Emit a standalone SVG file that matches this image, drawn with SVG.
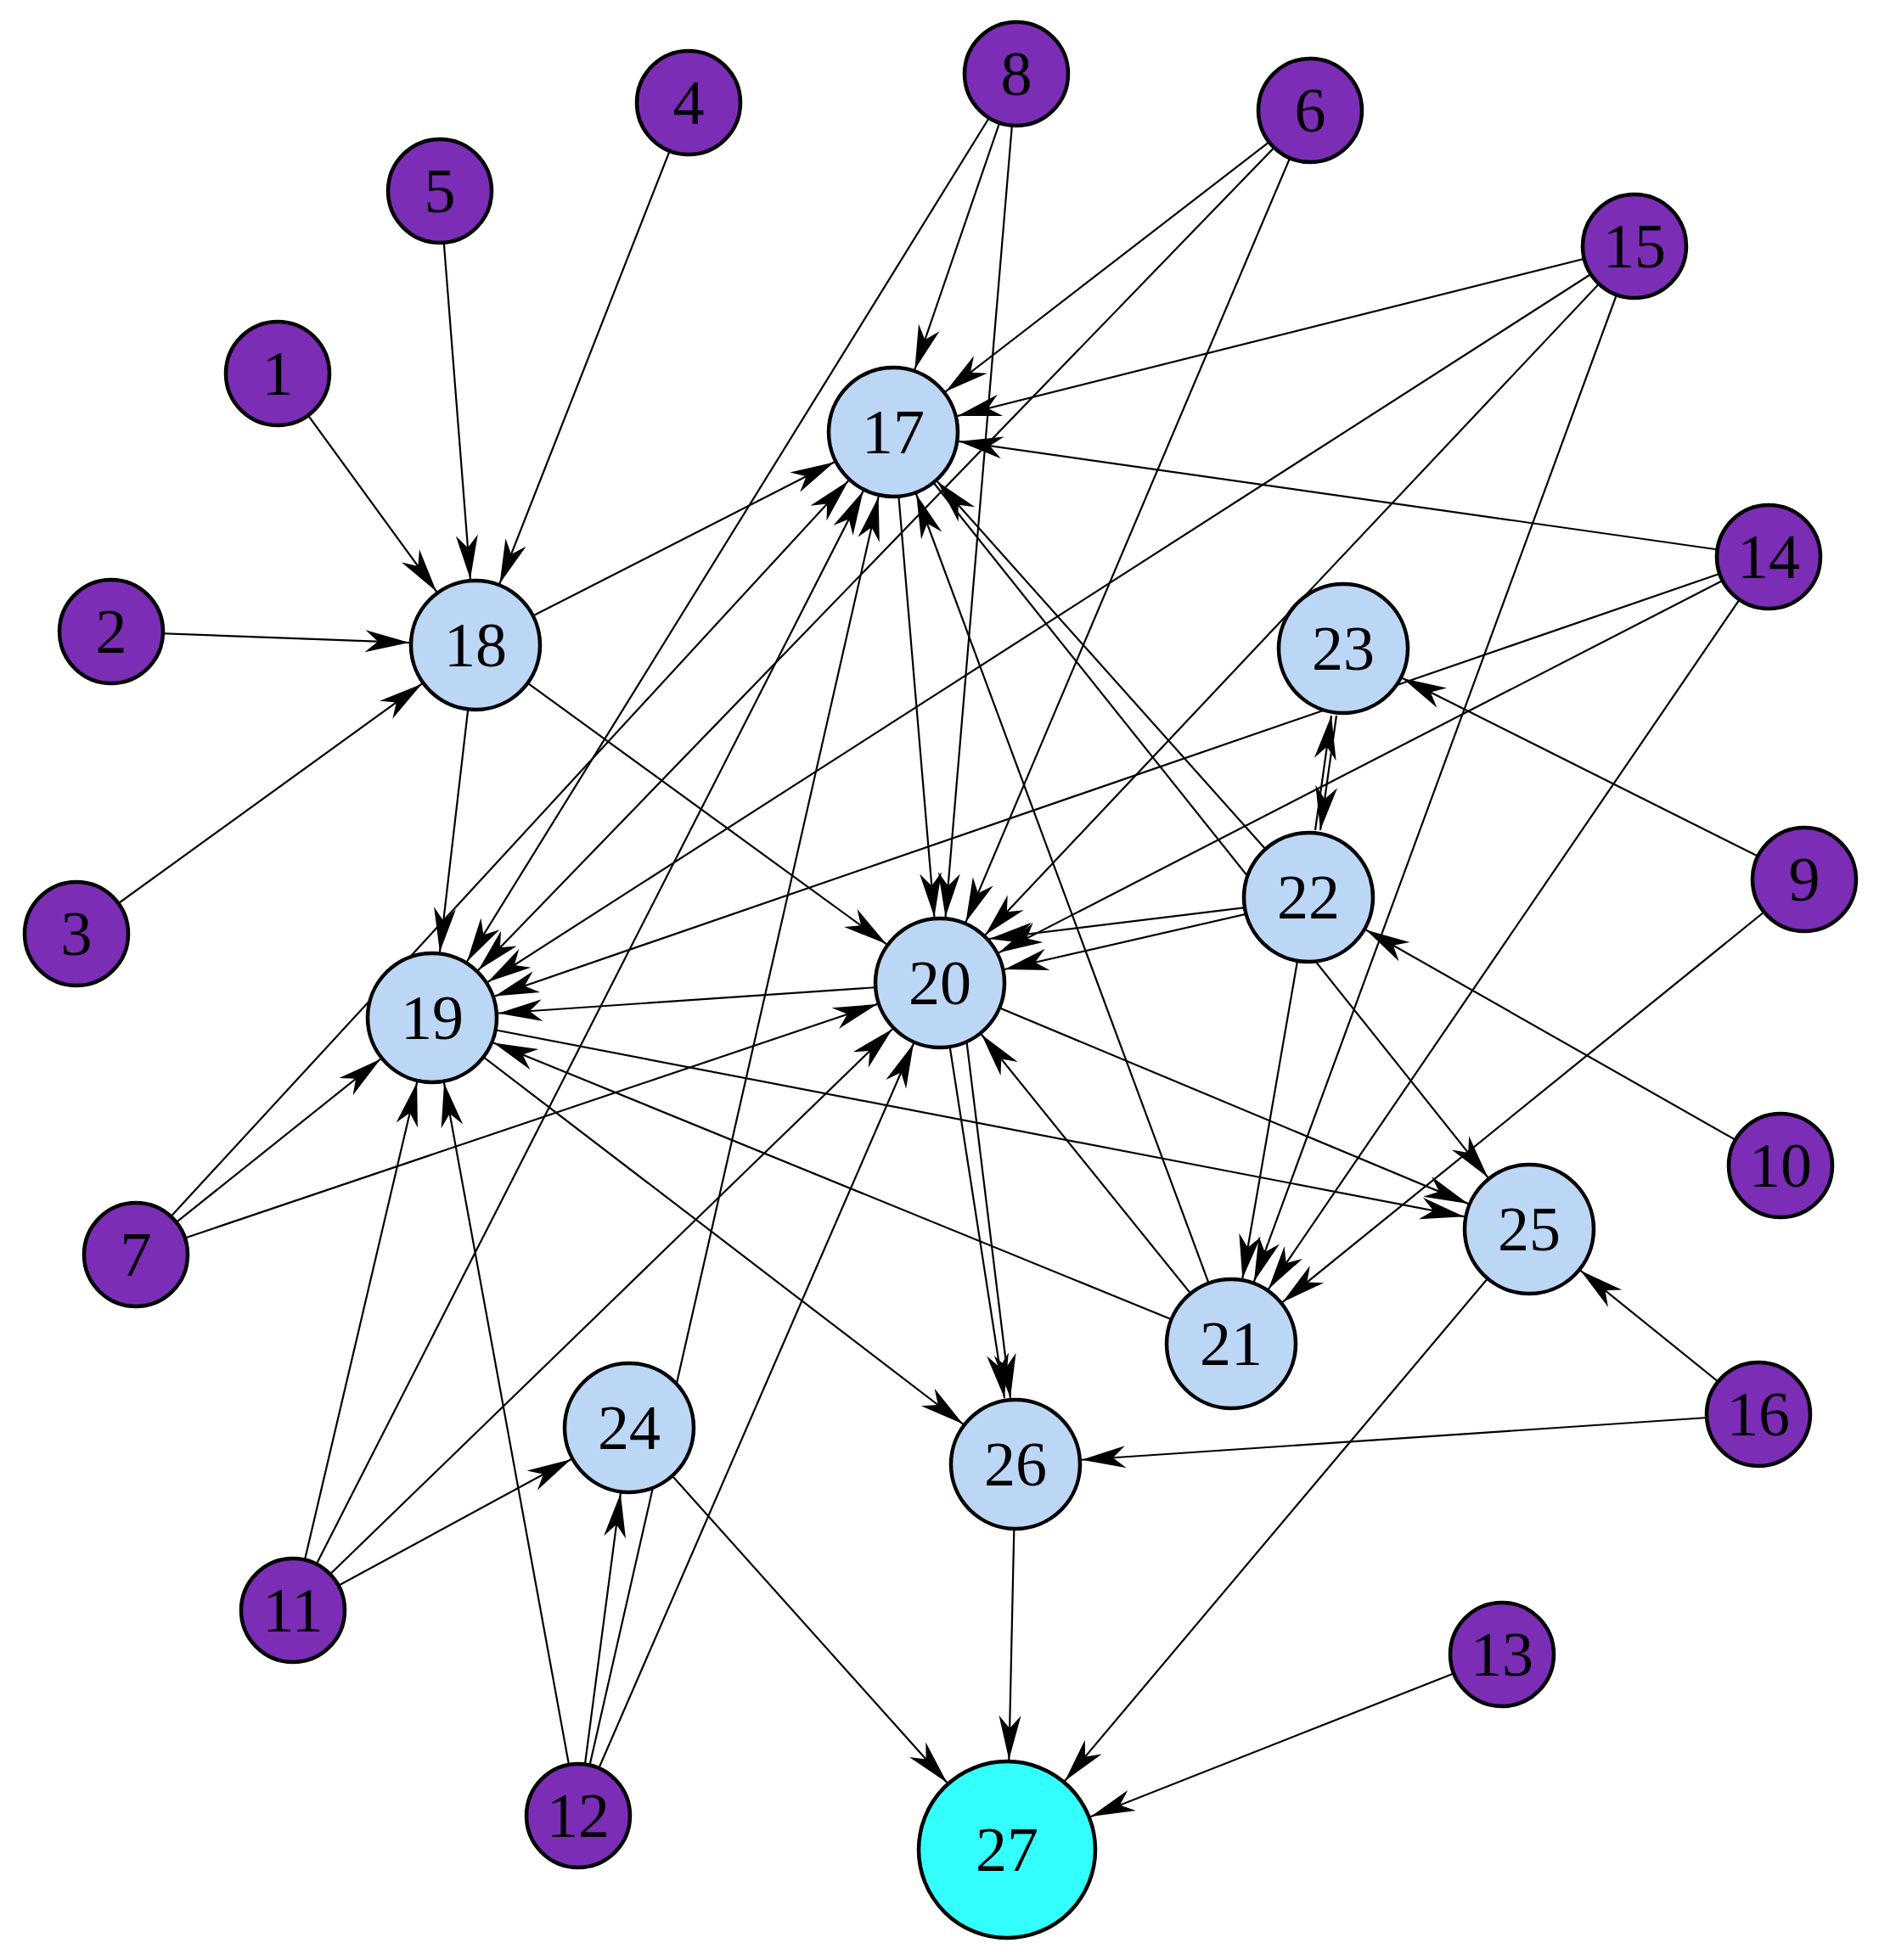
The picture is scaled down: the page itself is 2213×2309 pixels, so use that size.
<svg xmlns="http://www.w3.org/2000/svg" width="2213" height="2309" viewBox="0 0 2213 2309">
<style>
.e line{stroke:#000;stroke-width:2.2;fill:none}
.p{fill:#7B2DB6;stroke:#000;stroke-width:4.5}
.b{fill:#BCD6F5;stroke:#000;stroke-width:4.5}
.c{fill:#33FFFF;stroke:#000;stroke-width:4.5}
text{font-family:"Liberation Serif","Times New Roman",serif;font-size:74px;text-anchor:middle;fill:#000}
</style>
<defs>
<marker id="a78" markerUnits="userSpaceOnUse" viewBox="-140 -16 142 32" markerWidth="142" markerHeight="32" refX="0" refY="0" orient="auto" overflow="visible"><path d="M-78,0 L-130,-13 L-115,0 L-130,13 Z" fill="#000"/></marker>
<marker id="a106" markerUnits="userSpaceOnUse" viewBox="-170 -16 172 32" markerWidth="172" markerHeight="32" refX="0" refY="0" orient="auto" overflow="visible"><path d="M-106,0 L-158,-13 L-143,0 L-158,13 Z" fill="#000"/></marker>
<marker id="tip" markerUnits="userSpaceOnUse" viewBox="-56 -16 58 32" markerWidth="58" markerHeight="32" refX="0" refY="0" orient="auto" overflow="visible"><path d="M0,0 L-52,-13 L-37,0 L-52,13 Z" fill="#000"/></marker>
</defs>
<rect width="2213" height="2309" fill="#fff"/>
<g id="edges" class="e">
<line x1="327" y1="440" x2="560" y2="760" marker-end="url(#a78)"/>
<line x1="518" y1="225" x2="560" y2="760" marker-end="url(#a78)"/>
<line x1="811" y1="121" x2="560" y2="760" marker-end="url(#a78)"/>
<line x1="131" y1="744" x2="560" y2="760" marker-end="url(#a78)"/>
<line x1="90" y1="1100" x2="560" y2="760" marker-end="url(#a78)"/>
<line x1="560" y1="760" x2="1052" y2="509" marker-end="url(#a78)"/>
<line x1="560" y1="760" x2="509" y2="1199" marker-end="url(#a78)"/>
<line x1="560" y1="760" x2="1107" y2="1158" marker-end="url(#a78)"/>
<line x1="1197" y1="87" x2="1052" y2="509" marker-end="url(#a78)"/>
<line x1="1197" y1="87" x2="509" y2="1199" marker-end="url(#a78)"/>
<line x1="1197" y1="87" x2="1107" y2="1158" marker-end="url(#a78)"/>
<line x1="1543" y1="130" x2="1052" y2="509" marker-end="url(#a78)"/>
<line x1="1543" y1="130" x2="509" y2="1199" marker-end="url(#a78)"/>
<line x1="1543" y1="130" x2="1107" y2="1158" marker-end="url(#a78)"/>
<line x1="1925" y1="290" x2="1052" y2="509" marker-end="url(#a78)"/>
<line x1="1925" y1="290" x2="509" y2="1199" marker-end="url(#a78)"/>
<line x1="1925" y1="290" x2="1107" y2="1158" marker-end="url(#a78)"/>
<line x1="1925" y1="290" x2="1450" y2="1583" marker-end="url(#a78)"/>
<line x1="2083" y1="656" x2="1052" y2="509" marker-end="url(#a78)"/>
<line x1="2083" y1="656" x2="509" y2="1199" marker-end="url(#a78)"/>
<line x1="2083" y1="656" x2="1107" y2="1158" marker-end="url(#a78)"/>
<line x1="2083" y1="656" x2="1450" y2="1583" marker-end="url(#a78)"/>
<line x1="2125" y1="1036" x2="1582" y2="764" marker-end="url(#a78)"/>
<line x1="2125" y1="1036" x2="1450" y2="1583" marker-end="url(#a78)"/>
<line x1="2097" y1="1373" x2="1541" y2="1057" marker-end="url(#a78)"/>
<line x1="2071" y1="1666" x2="1801" y2="1448" marker-end="url(#a78)"/>
<line x1="2071" y1="1666" x2="1196" y2="1725" marker-end="url(#a78)"/>
<line x1="1769" y1="1949" x2="1186" y2="2179" marker-end="url(#a106)"/>
<line x1="1801" y1="1448" x2="1186" y2="2179" marker-end="url(#a106)"/>
<line x1="1196" y1="1725" x2="1186" y2="2179" marker-end="url(#a106)"/>
<line x1="741" y1="1682" x2="1186" y2="2179" marker-end="url(#a106)"/>
<line x1="160" y1="1478" x2="509" y2="1199" marker-end="url(#a78)"/>
<line x1="160" y1="1478" x2="1052" y2="509" marker-end="url(#a78)"/>
<line x1="160" y1="1478" x2="1107" y2="1158" marker-end="url(#a78)"/>
<line x1="345" y1="1897" x2="509" y2="1199" marker-end="url(#a78)"/>
<line x1="345" y1="1897" x2="1052" y2="509" marker-end="url(#a78)"/>
<line x1="345" y1="1897" x2="1107" y2="1158" marker-end="url(#a78)"/>
<line x1="345" y1="1897" x2="741" y2="1682" marker-end="url(#a78)"/>
<line x1="681" y1="2139" x2="509" y2="1199" marker-end="url(#a78)"/>
<line x1="681" y1="2139" x2="741" y2="1682" marker-end="url(#a78)"/>
<line x1="681" y1="2139" x2="1052" y2="509" marker-end="url(#a78)"/>
<line x1="681" y1="2139" x2="1107" y2="1158" marker-end="url(#a78)"/>
<line x1="1052" y1="509" x2="1107" y2="1158" marker-end="url(#a78)"/>
<line x1="509" y1="1199" x2="1801" y2="1448" marker-end="url(#a78)"/>
<line x1="509" y1="1199" x2="1196" y2="1725" marker-end="url(#a78)"/>
<line x1="1450" y1="1583" x2="509" y2="1199" marker-end="url(#a78)"/>
<line x1="1450" y1="1583" x2="1107" y2="1158" marker-end="url(#a78)"/>
<line x1="1450" y1="1583" x2="1052" y2="509" marker-end="url(#a78)"/>
<line x1="1107" y1="1158" x2="509" y2="1199" marker-end="url(#a78)"/>
<line x1="1107" y1="1158" x2="1801" y2="1448" marker-end="url(#a78)"/>
<line x1="1541" y1="1057" x2="1052" y2="509" marker-end="url(#a78)"/>
<line x1="1052" y1="509" x2="1801" y2="1448" marker-end="url(#a78)"/>
<line x1="1541" y1="1057" x2="1450" y2="1583" marker-end="url(#a78)"/>
<line x1="1107" y1="1158" x2="1183" y2="1647" marker-end="url(#tip)"/>
<line x1="1130" y1="1158" x2="1190" y2="1647" marker-end="url(#tip)"/>
<line x1="1541" y1="1060" x2="1165" y2="1106" marker-end="url(#tip)"/>
<line x1="1541" y1="1060" x2="1183" y2="1142" marker-end="url(#tip)"/>
<line x1="1574" y1="843" x2="1555" y2="978" marker-end="url(#tip)"/>
<line x1="1549" y1="978" x2="1568" y2="843" marker-end="url(#tip)"/>
</g>
<g id="n1"><circle class="p" cx="327" cy="440" r="61"/><text x="327" y="465">1</text></g>
<g id="n2"><circle class="p" cx="131" cy="744" r="61"/><text x="131" y="769">2</text></g>
<g id="n3"><circle class="p" cx="90" cy="1100" r="61"/><text x="90" y="1125">3</text></g>
<g id="n4"><circle class="p" cx="811" cy="121" r="61"/><text x="811" y="146">4</text></g>
<g id="n5"><circle class="p" cx="518" cy="225" r="61"/><text x="518" y="250">5</text></g>
<g id="n6"><circle class="p" cx="1543" cy="130" r="61"/><text x="1543" y="155">6</text></g>
<g id="n7"><circle class="p" cx="160" cy="1478" r="61"/><text x="160" y="1503">7</text></g>
<g id="n8"><circle class="p" cx="1197" cy="87" r="61"/><text x="1197" y="112">8</text></g>
<g id="n9"><circle class="p" cx="2125" cy="1036" r="61"/><text x="2125" y="1061">9</text></g>
<g id="n10"><circle class="p" cx="2097" cy="1373" r="61"/><text x="2097" y="1398">10</text></g>
<g id="n11"><circle class="p" cx="345" cy="1897" r="61"/><text x="345" y="1922">11</text></g>
<g id="n12"><circle class="p" cx="681" cy="2139" r="61"/><text x="681" y="2164">12</text></g>
<g id="n13"><circle class="p" cx="1769" cy="1949" r="61"/><text x="1769" y="1974">13</text></g>
<g id="n14"><circle class="p" cx="2083" cy="656" r="61"/><text x="2083" y="681">14</text></g>
<g id="n15"><circle class="p" cx="1925" cy="290" r="61"/><text x="1925" y="315">15</text></g>
<g id="n16"><circle class="p" cx="2071" cy="1666" r="61"/><text x="2071" y="1691">16</text></g>
<g id="n17"><circle class="b" cx="1052" cy="509" r="76"/><text x="1052" y="534">17</text></g>
<g id="n18"><circle class="b" cx="560" cy="760" r="76"/><text x="560" y="785">18</text></g>
<g id="n19"><circle class="b" cx="509" cy="1199" r="76"/><text x="509" y="1224">19</text></g>
<g id="n20"><circle class="b" cx="1107" cy="1158" r="76"/><text x="1107" y="1183">20</text></g>
<g id="n21"><circle class="b" cx="1450" cy="1583" r="76"/><text x="1450" y="1608">21</text></g>
<g id="n22"><circle class="b" cx="1541" cy="1057" r="76"/><text x="1541" y="1082">22</text></g>
<g id="n23"><circle class="b" cx="1582" cy="764" r="76"/><text x="1582" y="789">23</text></g>
<g id="n24"><circle class="b" cx="741" cy="1682" r="76"/><text x="741" y="1707">24</text></g>
<g id="n25"><circle class="b" cx="1801" cy="1448" r="76"/><text x="1801" y="1473">25</text></g>
<g id="n26"><circle class="b" cx="1196" cy="1725" r="76"/><text x="1196" y="1750">26</text></g>
<g id="n27"><circle class="c" cx="1186" cy="2179" r="104"/><text x="1186" y="2204">27</text></g>
</svg>
